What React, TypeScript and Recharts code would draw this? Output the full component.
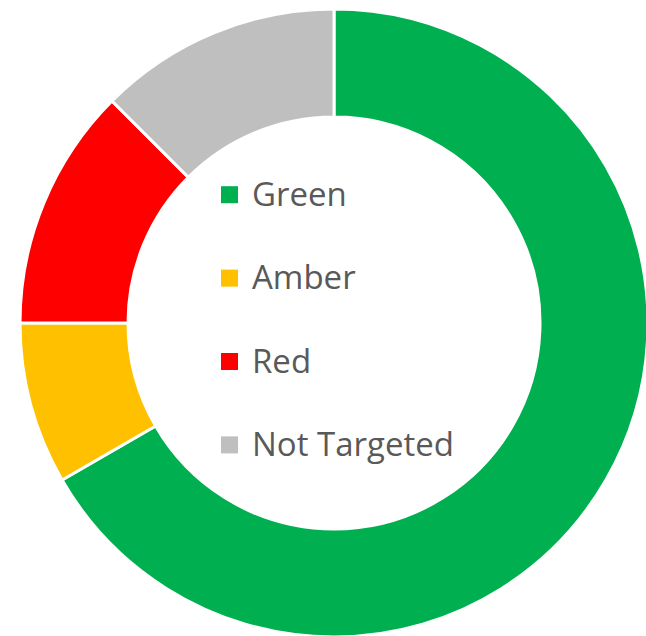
import React from "react";
import { PieChart, Pie, Cell, Legend } from "recharts";

const categories = ["Green", "Amber", "Red", "Not Targeted"];
const counts = [16, 2, 3, 3];
const colors = ["#00B050", "#FFC000", "#FF0000", "#BFBFBF"];

const data = categories.map((name, i) => ({ name, value: counts[i] }));

const LegendContent = (props: any) => {
  const payload = [...(props.payload || [])].sort(
    (a: any, b: any) => categories.indexOf(a.value) - categories.indexOf(b.value)
  );
  return (
    <svg width={260} height={300} style={{ display: "block" }}>
      {payload.map((entry: any, i: number) => {
        const baseline = 35.7 + i * 83.4;
        return (
          <g key={entry.value}>
            <rect x={6} y={baseline - 19.5} width={17} height={17} fill={entry.color} />
            <text
              x={37}
              y={baseline}
              fontFamily="'Open Sans', sans-serif"
              fontSize={33}
              fill="#595959"
            >
              {entry.value}
            </text>
          </g>
        );
      })}
    </svg>
  );
};

export default function App() {
  return (
    <div style={{ position: "absolute", left: 0, top: 0, width: 646, height: 636, background: "#fff" }}>
      <PieChart width={646} height={636} margin={{ top: 0, right: 0, bottom: 0, left: 0 }}>
        <Pie
          data={data}
          dataKey="value"
          nameKey="name"
          cx={334}
          cy={323}
          innerRadius={206}
          outerRadius={314}
          startAngle={90}
          endAngle={-270}
          stroke="#ffffff"
          strokeWidth={3}
          isAnimationActive={false}
        >
          {data.map((d, i) => (
            <Cell key={d.name} fill={colors[i]} />
          ))}
        </Pie>
        <Legend
          content={<LegendContent />}
          wrapperStyle={{ position: "absolute", left: 215, top: 170, width: 260, height: 300, bottom: "auto", right: "auto" }}
        />
      </PieChart>
    </div>
  );
}
